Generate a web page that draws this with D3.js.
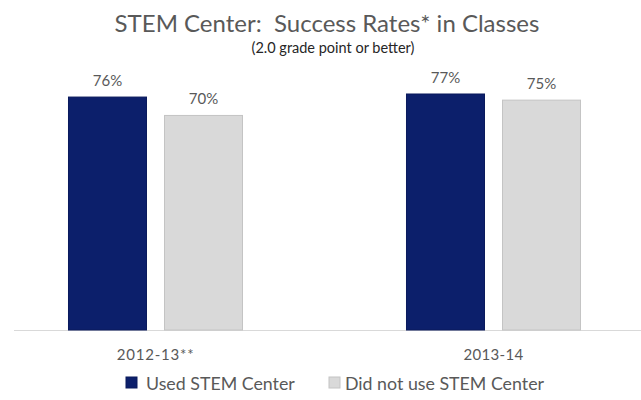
<!DOCTYPE html>
<html>
<head>
<meta charset="utf-8">
<script src="https://cdn.jsdelivr.net/npm/d3@7"></script>
<style>
  html, body { margin: 0; padding: 0; background: #fff; }
  svg { display: block; }
  text { font-family: Lato, "Open Sans", sans-serif; white-space: pre; }
</style>
</head>
<body>
<script>
// Success rates by academic year, split by STEM Center use
const categories = ["2012-13**", "2013-14"];
const seriesNames = ["Used STEM Center", "Did not use STEM Center"];
const usedValues = [0.76, 0.77];
const notUsedValues = [0.70, 0.75];
const seriesColors = ["#0c1f6b", "#d9d9d9"];
const seriesStroke = ["#0a1a5c", "#c4c4c4"];

const W = 641, H = 400;
const svg = d3.select("body").append("svg").attr("width", W).attr("height", H);

const rows = categories.map((c, i) => ({
  category: c,
  values: [
    { series: seriesNames[0], value: usedValues[i] },
    { series: seriesNames[1], value: notUsedValues[i] }
  ]
}));

const x0 = d3.scaleBand().domain(categories).range([-13.5, 662.5]).paddingInner(0).paddingOuter(0);
const x1 = d3.scaleBand().domain(seriesNames).range([0, x0.bandwidth()])
  .paddingInner(0.1875).paddingOuter(0.854);
const y = d3.scaleLinear().domain([0, 1]).range([330, 23.5]);
const color = d3.scaleOrdinal().domain(seriesNames).range(seriesColors);
const stroke = d3.scaleOrdinal().domain(seriesNames).range(seriesStroke);

// Title
svg.append("text").attr("x", 327).attr("y", 32).attr("text-anchor", "middle")
  .attr("font-size", 24).attr("fill", "#595959")
  .text("STEM Center:  Success Rates* in Classes");
svg.append("text").attr("x", 333).attr("y", 53).attr("text-anchor", "middle")
  .attr("font-size", 14.5).attr("fill", "#262626")
  .text("(2.0 grade point or better)");

// Category axis line
svg.append("line").attr("x1", 14).attr("x2", 641).attr("y1", y(0) + 0.5).attr("y2", y(0) + 0.5)
  .attr("stroke", "#d9d9d9").attr("stroke-width", 1);

// Bars
const groups = svg.selectAll("g.group").data(rows).join("g")
  .attr("class", "group")
  .attr("transform", d => `translate(${x0(d.category)},0)`);

groups.selectAll("rect").data(d => d.values).join("rect")
  .attr("x", d => x1(d.series))
  .attr("y", d => y(d.value))
  .attr("width", x1.bandwidth())
  .attr("height", d => y(0) - y(d.value))
  .attr("fill", d => color(d.series))
  .attr("stroke", d => stroke(d.series))
  .attr("stroke-width", 1);

// Value labels
groups.selectAll("text.val").data(d => d.values).join("text")
  .attr("class", "val")
  .attr("x", d => x1(d.series) + x1.bandwidth() / 2)
  .attr("y", d => y(d.value) - 11)
  .attr("text-anchor", "middle")
  .attr("font-size", 15).attr("fill", "#595959")
  .text(d => d3.format(".0%")(d.value));

// Category labels
const xAxis = d3.axisBottom(x0).tickSize(0).tickPadding(0);
const axisG = svg.append("g").attr("transform", `translate(0,${y(0)})`).call(xAxis);
axisG.select(".domain").remove();
axisG.selectAll("text")
  .attr("dy", 0).attr("y", 30)
  .attr("font-size", 15).attr("fill", "#595959")
  .attr("letter-spacing", d => d === categories[0] ? 0.8 : 0.3)
  .style("font-family", "Lato, 'Open Sans', sans-serif");

// Legend
const legendItems = [
  { name: seriesNames[0], sx: 126, tx: 146 },
  { name: seriesNames[1], sx: 329, tx: 345 }
];
const lg = svg.selectAll("g.legend").data(legendItems).join("g").attr("class", "legend");
lg.append("rect")
  .attr("x", d => d.sx).attr("y", 377).attr("width", 11).attr("height", 11)
  .attr("fill", d => color(d.name)).attr("stroke", d => stroke(d.name));
lg.append("text")
  .attr("x", d => d.tx).attr("y", 390)
  .attr("font-size", 17.8).attr("fill", "#595959")
  .text(d => d.name);
</script>
</body>
</html>
